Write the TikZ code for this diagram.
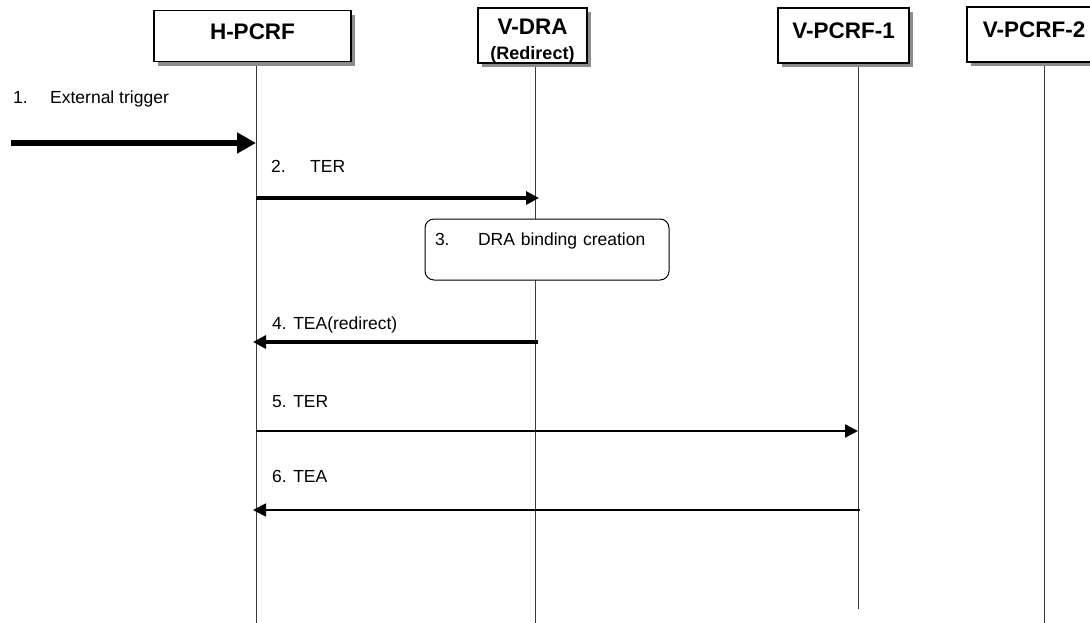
\documentclass[tikz,border=0pt]{standalone}
\usepackage{fontspec}
\setmainfont{Liberation Sans}
\usetikzlibrary{arrows.meta, positioning, shadows}
\definecolor{cLine} {HTML}{3C3C3C}
\definecolor{cShade}{HTML}{8C8C8C}

\begin{document}
\begin{tikzpicture}[x=1pt, y=-1pt,
        actor/.style = {draw, line width=1.1pt, fill=white, inner sep=0pt, text height=16pt, text depth=10pt, font=\fontsize{22.5}{26}\selectfont\bfseries, drop shadow={shadow xshift=4pt, shadow yshift=-4pt, fill=cShade, opacity=1}},
        life/.style  = {draw=cLine, line width=0.9pt},
        lbl/.style   = {anchor=base west, inner sep=0pt, font=\fontsize{17.5}{21}\selectfont},
        proc/.style  = {draw, line width=1pt, rounded corners=9pt, fill=white, inner xsep=10pt, inner ysep=0pt, text width=224pt, minimum height=61pt, text height=13pt, text depth=21pt, font=\fontsize{17.5}{21}\selectfont},
        msg/.style   = {-{Triangle[length=13pt, width=13pt]}} ]
      \useasboundingbox (0,0) rectangle (1090,623);
      \clip (0,0) rectangle (1090,623);

      % lifelines
      \coordinate (hL)  at (256,66);
      \coordinate (dL)  at (535,66);
      \coordinate (p1L) at (858,66);
      \coordinate (p2L) at (1044,66);
      \draw[life] (hL)  -- (hL |- 0,623);
      \draw[life] (dL)  -- (dL |- 0,623);
      \draw[life] (p1L) -- (p1L |- 0,609);
      \draw[life] (p2L) -- (p2L |- 0,623);

      % entities
      \node[actor, minimum width=197pt, minimum height=51pt] (hpcrf) at (252.5,36.3) {H-PCRF};
      \node[actor, minimum width=109pt, minimum height=55pt, align=center, text height=50pt, text depth=1pt] (vdra) at (532.5,35.5) {V-DRA\\[-1pt]{\fontsize{18}{22}\selectfont (Redirect)}};
      \node[actor, minimum width=131pt, minimum height=55pt] (vpcrf1) at (843.5,35.5) {V-PCRF-1};
      \node[actor, minimum width=134pt, minimum height=55pt] (vpcrf2) at (1034,34.5) {V-PCRF-2};

      % 1. trigger
      \coordinate (ext) at (11,143);
      \node[lbl] (l1) at (13,104) {\makebox[37pt][l]{1.}External trigger};
      \draw[line width=6.5pt, -{Triangle[length=19pt, width=20pt]}] (ext) -- (hL |- ext);

      % 2. TER
      \node[lbl] (l2) at (271,172) {\makebox[39pt][l]{2.}TER};
      \draw[msg, line width=3.2pt] (hL |- 0,198) -- ([xshift=4pt]dL |- 0,198);

      % 3. binding
      \node[proc] (bind) at (547,249.5) {\makebox[43pt][l]{3.}DRA binding creation};

      % 4. TEA(redirect)
      \node[lbl] (l4) at (272,329) {4. TEA(redirect)};
      \draw[msg, line width=3.5pt] ([xshift=3pt]dL |- 0,342) -- ([xshift=-3pt]hL |- 0,342);

      % 5. TER
      \node[lbl] (l5) at (272,407) {5. TER};
      \draw[msg, line width=2.5pt] (hL |- 0,431) -- (p1L |- 0,431);

      % 6. TEA
      \node[lbl] (l6) at (272,482) {6. TEA};
      \draw[msg, line width=1.8pt] ([xshift=2pt]p1L |- 0,510) -- ([xshift=-3pt]hL |- 0,510);
    \end{tikzpicture}
\end{document}
